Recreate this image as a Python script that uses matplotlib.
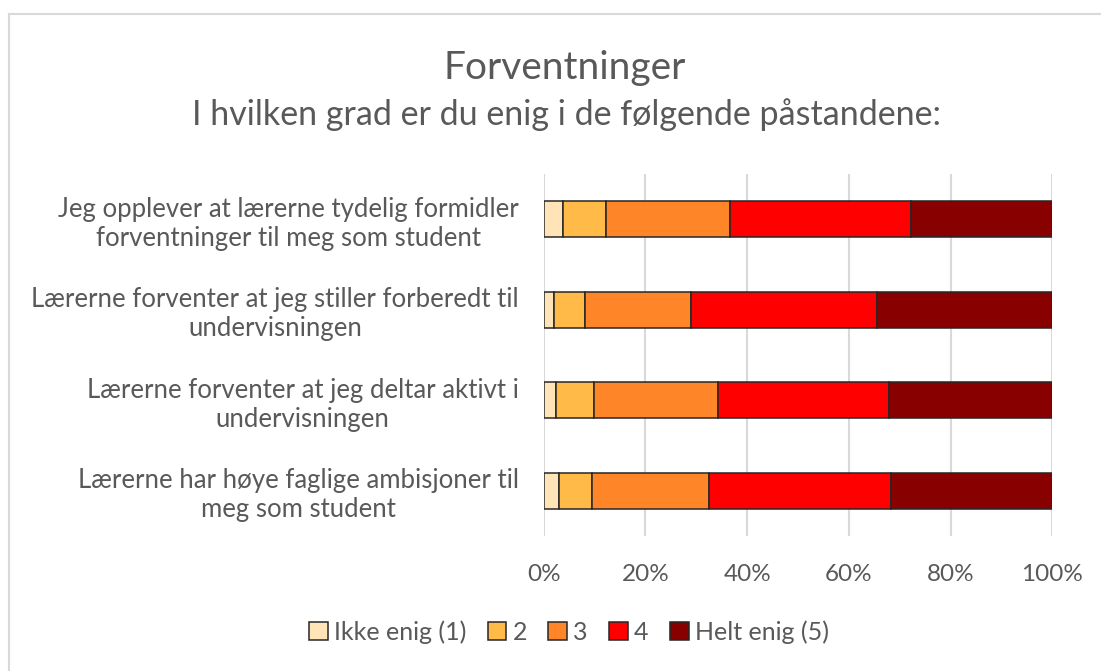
import numpy as np
import matplotlib
matplotlib.use("Agg")
import matplotlib.pyplot as plt
from matplotlib.ticker import PercentFormatter

# data (share of answers, %)
questions = [
    "Jeg opplever at lærerne tydelig formidler\nforventninger til meg som student",
    "Lærerne forventer at jeg stiller forberedt til\nundervisningen",
    "Lærerne forventer at jeg deltar aktivt i\nundervisningen",
    "Lærerne har høye faglige ambisjoner til\nmeg som student",
]
levels = ["Ikke enig (1)", "2", "3", "4", "Helt enig (5)"]
s1 = [3.7, 2.0, 2.5, 3.1]
s2 = [8.5, 6.1, 7.3, 6.4]
s3 = [24.4, 20.9, 24.4, 23.0]
s4 = [35.7, 36.5, 33.7, 35.7]
s5 = [27.7, 34.5, 32.1, 31.8]
colors = ["#FFE4B8", "#FFBA47", "#FF8628", "#FF0000", "#880000"]

font = "Lato"
grey = "#595959"

fig = plt.figure(figsize=(11.01, 6.71), dpi=100)
ax = fig.add_axes([543.7 / 1101, 1 - 536 / 671, 508.6 / 1101, 362 / 671])

series = np.array([s1, s2, s3, s4, s5])
y = np.arange(len(questions))
left = np.zeros(len(questions))
for vals, lab, col in zip(series, levels, colors):
    ax.barh(y, vals, left=left, height=0.4, color=col, edgecolor="#262626",
            linewidth=1.1, label=lab, zorder=3)
    left += vals

ax.set_xlim(0, 100)
ax.set_ylim(len(questions) - 0.5, -0.5)
ax.set_xticks(np.arange(0, 101, 20))
ax.xaxis.set_major_formatter(PercentFormatter(decimals=0))
ax.set_yticks(y)
ax.set_yticklabels(questions, fontfamily=font, fontsize=18.5, color=grey,
                   ha="right", multialignment="center")
ax.tick_params(axis="x", labelsize=17.5, labelcolor=grey, length=0, pad=20)
ax.tick_params(axis="y", length=0, pad=18)
for lbl in ax.get_xticklabels():
    lbl.set_fontfamily(font)
ax.grid(axis="x", color="#D9D9D9", linewidth=1.5, zorder=0)
for sp in ax.spines.values():
    sp.set_visible(False)

fig.text(565 / 1101, 1 - 68 / 671, "Forventninger", ha="center", va="center",
         fontsize=28, color=grey, fontfamily=font)
fig.text(566 / 1101, 1 - 115 / 671, "I hvilken grad er du enig i de følgende påstandene:",
         ha="center", va="center", fontsize=24.5, color=grey, fontfamily=font)

leg = fig.legend(loc="center", bbox_to_anchor=(569 / 1101, 1 - 632 / 671), ncol=5,
                 frameon=False, prop={"family": font, "size": 18},
                 handlelength=0.75, handleheight=0.75, handletextpad=0.25,
                 columnspacing=0.85, labelcolor=grey)

# outer chart border
fig.add_artist(plt.Line2D([9 / 1101, 9 / 1101], [0, 1 - 14 / 671], color="#D9D9D9",
                          linewidth=1.5, transform=fig.transFigure))
fig.add_artist(plt.Line2D([9 / 1101, 1], [1 - 14 / 671, 1 - 14 / 671], color="#D9D9D9",
                          linewidth=1.5, transform=fig.transFigure))

fig.savefig("out.png", dpi=100, facecolor="white")
